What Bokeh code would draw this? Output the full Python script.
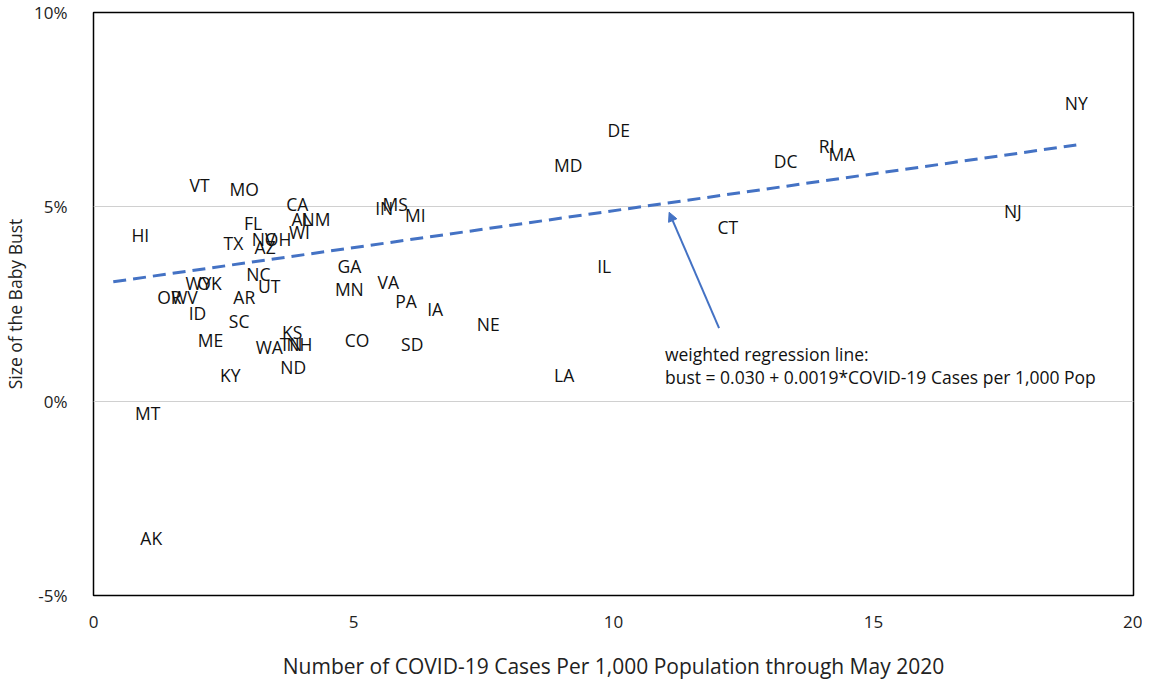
from bokeh.plotting import figure
from bokeh.models import ColumnDataSource, NumeralTickFormatter, FixedTicker, Arrow, NormalHead, Label
from bokeh.core.properties import value
from bokeh.embed import file_html
from bokeh.resources import INLINE

states = ["NY", "DE", "MD", "DC", "RI", "MA", "NJ", "CT", "IL", "LA", "NE", "IA", "SD", "PA", "VA",
          "MI", "MS", "IN", "GA", "MN", "CO", "CA", "AL", "NM", "WI", "FL", "NV", "OH", "AZ", "TX",
          "HI", "VT", "MO", "NC", "UT", "WY", "OK", "OR", "WV", "AR", "SC", "ID", "ME", "KY", "KS",
          "WA", "TN", "NH", "ND", "MT", "AK"]
cases = [18.9, 10.1, 9.13, 13.31, 14.1, 14.39, 17.68, 12.2, 9.82, 9.05, 7.59, 6.57, 6.13, 6.01, 5.67,
         6.19, 5.8, 5.59, 4.92, 4.92, 5.07, 3.92, 4.0, 4.28, 3.96, 3.07, 3.27, 3.55, 3.3, 2.69,
         0.9, 2.04, 2.9, 3.17, 3.38, 2.02, 2.23, 1.46, 1.75, 2.9, 2.8, 2.0, 2.25, 2.63, 3.82,
         3.38, 3.8, 3.96, 3.84, 1.04, 1.11]
bust = [7.67, 6.97, 6.07, 6.18, 6.56, 6.36, 4.89, 4.48, 3.47, 0.67, 1.98, 2.37, 1.47, 2.57, 3.06,
        4.79, 5.07, 4.97, 3.47, 2.88, 1.57, 5.07, 4.68, 4.68, 4.35, 4.58, 4.17, 4.17, 3.96, 4.07,
        4.27, 5.56, 5.46, 3.27, 2.96, 3.04, 3.04, 2.68, 2.68, 2.68, 2.06, 2.26, 1.57, 0.67, 1.78,
        1.39, 1.47, 1.47, 0.87, -0.31, -3.53]

intercept = 0.030
slope = 0.0019
line_x = [0.38, 18.9]
x_ticks = [0, 5, 10, 15, 20]
y_ticks = [-0.05, 0.0, 0.05, 0.10]

FONT = "Open Sans"
BLUE = "#4472C4"

p = figure(width=1142, height=682, x_range=(0, 20), y_range=(-0.05, 0.10),
           output_backend="svg", toolbar_location=None,
           min_border_left=91, min_border_right=9, min_border_top=12, min_border_bottom=81)

src = ColumnDataSource(dict(x=cases, y=[b / 100 for b in bust], t=states))

# regression line
p.line(line_x, [intercept + slope * x for x in line_x], line_color=BLUE, line_width=3,
       line_dash="13 7")

p.text(x="x", y="y", text="t", source=src, text_align="center", text_baseline="middle",
       text_font=value(FONT), text_font_size="17.5px", text_color="#111111")

p.add_layout(Arrow(end=NormalHead(size=9, line_color=BLUE, fill_color=BLUE, line_width=1),
                   x_start=12.03, y_start=0.0188, x_end=11.07, y_end=0.0486,
                   line_color=BLUE, line_width=2))

p.add_layout(Label(x=10.99, y=0.0121, text="weighted regression line:", text_font=FONT,
                   text_font_size="17.5px", text_baseline="middle", text_color="#111111"))
p.add_layout(Label(x=10.99, y=0.0062, text="bust = 0.030 + 0.0019*COVID-19 Cases per 1,000 Pop",
                   text_font=FONT, text_font_size="17.5px", text_baseline="middle",
                   text_color="#111111"))

p.xgrid.visible = False
p.ygrid.ticker = FixedTicker(ticks=[0.0, 0.05])
p.ygrid.grid_line_color = "#D0D0D0"
p.ygrid.grid_line_width = 1

p.outline_line_color = "black"
p.outline_line_width = 1.5

p.xaxis.ticker = FixedTicker(ticks=x_ticks)
p.yaxis.ticker = FixedTicker(ticks=y_ticks)
p.yaxis.formatter = NumeralTickFormatter(format="0%")

for ax in (p.xaxis[0], p.yaxis[0]):
    ax.axis_line_color = None
    ax.major_tick_line_color = None
    ax.minor_tick_line_color = None
    ax.major_label_text_font = FONT
    ax.major_label_text_font_size = "17px"
    ax.major_label_text_color = "#222222"
    ax.axis_label_text_font = FONT
    ax.axis_label_text_font_style = "normal"
    ax.axis_label_text_color = "#222222"

p.xaxis.axis_label_text_font_size = "21px"
p.yaxis.axis_label_text_font_size = "17.5px"
p.xaxis.axis_label = "Number of COVID-19 Cases Per 1,000 Population through May 2020"
p.yaxis.axis_label = "Size of the Baby Bust"
p.xaxis.major_label_standoff = 14
p.xaxis.axis_label_standoff = 21
p.yaxis.major_label_standoff = 20
p.yaxis.axis_label_standoff = 4

open("out.html", "w").write(file_html(p, INLINE))
